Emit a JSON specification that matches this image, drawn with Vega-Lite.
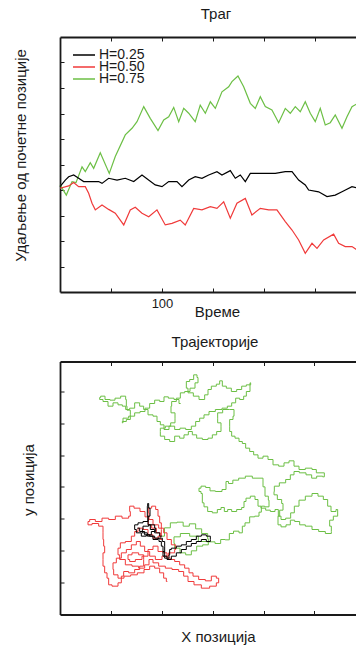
{
"$schema": "https://vega.github.io/schema/vega-lite/v6.json",
"autosize": {"type": "pad"},
"padding": {"left": 12, "top": 6, "right": 0, "bottom": 0},
"bounds": "flush",
"spacing": 69.5,
"config": {
  "font": "Liberation Sans",
  "view": {"stroke": null},
  "axis": {"grid": false, "domainColor": "#1a1a1a", "domainWidth": 1.8, "tickColor": "#1a1a1a", "tickSize": -4, "tickWidth": 1, "labelFontSize": 13, "labelColor": "#1a1a1a", "labelFont": "Liberation Sans", "titleFont": "Liberation Sans", "titleFontSize": 15, "titleFontWeight": "normal", "titleColor": "#1a1a1a"},
  "title": {"font": "Liberation Sans", "fontSize": 15, "fontWeight": "normal", "color": "#1a1a1a", "frame": "group", "anchor": "middle", "baseline": "alphabetic"}
},
"resolve": {"scale": {"color": "independent"}},
"datasets": {
"trace": [
{"H":"H=0.75","t":0,"d":0.2},{"H":"H=0.75","t":6.2,"d":-0.2},{"H":"H=0.75","t":11.8,"d":0.33},{"H":"H=0.75","t":15.7,"d":0.29},{"H":"H=0.75","t":21.6,"d":0.91},{"H":"H=0.75","t":24.8,"d":0.72},{"H":"H=0.75","t":29.7,"d":1.07},{"H":"H=0.75","t":33,"d":0.85},{"H":"H=0.75","t":39.5,"d":1.46},{"H":"H=0.75","t":48.3,"d":0.65},{"H":"H=0.75","t":54.2,"d":1.31},{"H":"H=0.75","t":64,"d":2.16},{"H":"H=0.75","t":70.6,"d":2.42},{"H":"H=0.75","t":75.5,"d":2.68},{"H":"H=0.75","t":82.1,"d":3.27},{"H":"H=0.75","t":88.5,"d":2.81},{"H":"H=0.75","t":96.1,"d":2.33},{"H":"H=0.75","t":101.7,"d":2.75},{"H":"H=0.75","t":106.6,"d":2.87},{"H":"H=0.75","t":111.5,"d":3.24},{"H":"H=0.75","t":116.4,"d":2.68},{"H":"H=0.75","t":121.3,"d":3.2},{"H":"H=0.75","t":126.2,"d":3.01},{"H":"H=0.75","t":132.6,"d":2.68},{"H":"H=0.75","t":137.5,"d":3.33},{"H":"H=0.75","t":142.5,"d":3.01},{"H":"H=0.75","t":147.4,"d":3.46},{"H":"H=0.75","t":152.3,"d":3.2},{"H":"H=0.75","t":158.8,"d":3.85},{"H":"H=0.75","t":165.4,"d":4.05},{"H":"H=0.75","t":168.6,"d":4.25},{"H":"H=0.75","t":174.5,"d":4.47},{"H":"H=0.75","t":180.1,"d":4.05},{"H":"H=0.75","t":186.6,"d":3.4},{"H":"H=0.75","t":191.5,"d":3.2},{"H":"H=0.75","t":196.4,"d":3.66},{"H":"H=0.75","t":201.3,"d":3.27},{"H":"H=0.75","t":207.8,"d":3.14},{"H":"H=0.75","t":214.4,"d":2.64},{"H":"H=0.75","t":220.9,"d":3.2},{"H":"H=0.75","t":225.8,"d":3.01},{"H":"H=0.75","t":230.7,"d":3.27},{"H":"H=0.75","t":235.6,"d":3.07},{"H":"H=0.75","t":240.5,"d":3.46},{"H":"H=0.75","t":245.4,"d":3.01},{"H":"H=0.75","t":250.3,"d":2.68},{"H":"H=0.75","t":255.2,"d":3.2},{"H":"H=0.75","t":260.1,"d":2.55},{"H":"H=0.75","t":265,"d":2.64},{"H":"H=0.75","t":269.9,"d":2.94},{"H":"H=0.75","t":276.5,"d":2.42},{"H":"H=0.75","t":281.4,"d":2.87},{"H":"H=0.75","t":286.3,"d":3.27},{"H":"H=0.75","t":292.2,"d":3.4},
{"H":"H=0.50","t":0,"d":0.07},{"H":"H=0.50","t":8.5,"d":0.16},{"H":"H=0.50","t":13.4,"d":0.29},{"H":"H=0.50","t":18.3,"d":0.13},{"H":"H=0.50","t":24.8,"d":0.13},{"H":"H=0.50","t":28.1,"d":-0.13},{"H":"H=0.50","t":31.4,"d":-0.52},{"H":"H=0.50","t":34.6,"d":-0.78},{"H":"H=0.50","t":41.2,"d":-0.59},{"H":"H=0.50","t":47.7,"d":-0.76},{"H":"H=0.50","t":54.2,"d":-0.91},{"H":"H=0.50","t":62.5,"d":-1.37},{"H":"H=0.50","t":68.9,"d":-0.78},{"H":"H=0.50","t":73.8,"d":-0.68},{"H":"H=0.50","t":80.4,"d":-0.91},{"H":"H=0.50","t":87,"d":-1.05},{"H":"H=0.50","t":95.1,"d":-0.78},{"H":"H=0.50","t":103.2,"d":-1.37},{"H":"H=0.50","t":109.8,"d":-1.31},{"H":"H=0.50","t":117.9,"d":-1.18},{"H":"H=0.50","t":122.8,"d":-1.37},{"H":"H=0.50","t":131.1,"d":-0.72},{"H":"H=0.50","t":139.2,"d":-0.78},{"H":"H=0.50","t":147.4,"d":-0.65},{"H":"H=0.50","t":153.9,"d":-0.72},{"H":"H=0.50","t":160.5,"d":-0.46},{"H":"H=0.50","t":167,"d":-1.11},{"H":"H=0.50","t":173.5,"d":-0.52},{"H":"H=0.50","t":181.7,"d":-0.33},{"H":"H=0.50","t":188.2,"d":-0.98},{"H":"H=0.50","t":196.4,"d":-0.72},{"H":"H=0.50","t":204.6,"d":-0.78},{"H":"H=0.50","t":212.7,"d":-0.78},{"H":"H=0.50","t":220.9,"d":-1.24},{"H":"H=0.50","t":227.5,"d":-1.57},{"H":"H=0.50","t":234,"d":-1.96},{"H":"H=0.50","t":240.5,"d":-2.48},{"H":"H=0.50","t":247.1,"d":-2.09},{"H":"H=0.50","t":252,"d":-2.29},{"H":"H=0.50","t":258.5,"d":-1.96},{"H":"H=0.50","t":268.3,"d":-1.73},{"H":"H=0.50","t":273.2,"d":-2.09},{"H":"H=0.50","t":279.7,"d":-2.22},{"H":"H=0.50","t":286.3,"d":-2.22},{"H":"H=0.50","t":292.2,"d":-2.38},
{"H":"H=0.25","t":0,"d":0.13},{"H":"H=0.25","t":5.2,"d":0.39},{"H":"H=0.25","t":8.5,"d":0.52},{"H":"H=0.25","t":13.4,"d":0.59},{"H":"H=0.25","t":18.3,"d":0.46},{"H":"H=0.25","t":23.2,"d":0.33},{"H":"H=0.25","t":37.9,"d":0.33},{"H":"H=0.25","t":41.2,"d":0.26},{"H":"H=0.25","t":47.7,"d":0.46},{"H":"H=0.25","t":55.9,"d":0.39},{"H":"H=0.25","t":64,"d":0.46},{"H":"H=0.25","t":72.3,"d":0.33},{"H":"H=0.25","t":80.4,"d":0.59},{"H":"H=0.25","t":86.9,"d":0.39},{"H":"H=0.25","t":93.4,"d":0.2},{"H":"H=0.25","t":100,"d":0.13},{"H":"H=0.25","t":106.6,"d":0.33},{"H":"H=0.25","t":114.7,"d":0.33},{"H":"H=0.25","t":119.6,"d":0.13},{"H":"H=0.25","t":126.2,"d":0.39},{"H":"H=0.25","t":132.6,"d":0.52},{"H":"H=0.25","t":139.2,"d":0.46},{"H":"H=0.25","t":145.8,"d":0.59},{"H":"H=0.25","t":153.9,"d":0.72},{"H":"H=0.25","t":158.8,"d":0.59},{"H":"H=0.25","t":167,"d":0.76},{"H":"H=0.25","t":171.9,"d":0.46},{"H":"H=0.25","t":176.8,"d":0.59},{"H":"H=0.25","t":181.7,"d":0.33},{"H":"H=0.25","t":186.6,"d":0.65},{"H":"H=0.25","t":198,"d":0.65},{"H":"H=0.25","t":211.1,"d":0.65},{"H":"H=0.25","t":220.9,"d":0.72},{"H":"H=0.25","t":227.5,"d":0.72},{"H":"H=0.25","t":234,"d":0.39},{"H":"H=0.25","t":240.5,"d":0.2},{"H":"H=0.25","t":243.8,"d":0},{"H":"H=0.25","t":253.6,"d":-0.07},{"H":"H=0.25","t":261.8,"d":-0.26},{"H":"H=0.25","t":269.9,"d":-0.2},{"H":"H=0.25","t":276.5,"d":-0.07},{"H":"H=0.25","t":286.3,"d":0.13},{"H":"H=0.25","t":292.2,"d":0.07}
],
"traj": [
{"H":"H=0.75","i":1,"x":300,"y":235},{"H":"H=0.75","i":2,"x":315,"y":260},{"H":"H=0.75","i":3,"x":335,"y":275},{"H":"H=0.75","i":4,"x":355,"y":277},{"H":"H=0.75","i":5,"x":372,"y":265},{"H":"H=0.75","i":6,"x":392,"y":272},{"H":"H=0.75","i":7,"x":410,"y":257},{"H":"H=0.75","i":8,"x":428,"y":243},{"H":"H=0.75","i":9,"x":446,"y":227},{"H":"H=0.75","i":10,"x":432,"y":209},{"H":"H=0.75","i":11,"x":412,"y":205},{"H":"H=0.75","i":12,"x":396,"y":191},{"H":"H=0.75","i":13,"x":380,"y":179},{"H":"H=0.75","i":14,"x":362,"y":185},{"H":"H=0.75","i":15,"x":346,"y":199},{"H":"H=0.75","i":16,"x":330,"y":213},{"H":"H=0.75","i":17,"x":342,"y":233},{"H":"H=0.75","i":18,"x":368,"y":243},{"H":"H=0.75","i":19,"x":398,"y":235},{"H":"H=0.75","i":20,"x":420,"y":219},{"H":"H=0.75","i":21,"x":448,"y":218},{"H":"H=0.75","i":22,"x":470,"y":213},{"H":"H=0.75","i":23,"x":482,"y":225},{"H":"H=0.75","i":24,"x":497,"y":224},{"H":"H=0.75","i":25,"x":507,"y":243},{"H":"H=0.75","i":26,"x":522,"y":250},{"H":"H=0.75","i":27,"x":540,"y":245},{"H":"H=0.75","i":28,"x":542,"y":265},{"H":"H=0.75","i":29,"x":556,"y":275},{"H":"H=0.75","i":30,"x":570,"y":293},{"H":"H=0.75","i":31,"x":586,"y":295},{"H":"H=0.75","i":32,"x":596,"y":307},{"H":"H=0.75","i":33,"x":600,"y":325},{"H":"H=0.75","i":34,"x":616,"y":323},{"H":"H=0.75","i":35,"x":626,"y":343},{"H":"H=0.75","i":36,"x":612,"y":355},{"H":"H=0.75","i":37,"x":606,"y":383},{"H":"H=0.75","i":38,"x":600,"y":409},{"H":"H=0.75","i":39,"x":582,"y":409},{"H":"H=0.75","i":40,"x":560,"y":415},{"H":"H=0.75","i":41,"x":540,"y":409},{"H":"H=0.75","i":42,"x":520,"y":403},{"H":"H=0.75","i":43,"x":505,"y":393},{"H":"H=0.75","i":44,"x":494,"y":399},{"H":"H=0.75","i":45,"x":490,"y":375},{"H":"H=0.75","i":46,"x":470,"y":369},{"H":"H=0.75","i":47,"x":450,"y":371},{"H":"H=0.75","i":48,"x":438,"y":381},{"H":"H=0.75","i":49,"x":424,"y":385},{"H":"H=0.75","i":50,"x":410,"y":379},{"H":"H=0.75","i":51,"x":412,"y":369},{"H":"H=0.75","i":52,"x":422,"y":363},{"H":"H=0.75","i":53,"x":420,"y":335},{"H":"H=0.75","i":54,"x":432,"y":323},{"H":"H=0.75","i":55,"x":442,"y":309},{"H":"H=0.75","i":56,"x":460,"y":305},{"H":"H=0.75","i":57,"x":472,"y":315},{"H":"H=0.75","i":58,"x":482,"y":321},{"H":"H=0.75","i":59,"x":492,"y":309},{"H":"H=0.75","i":60,"x":502,"y":315},{"H":"H=0.75","i":61,"x":516,"y":309},{"H":"H=0.75","i":62,"x":532,"y":315},{"H":"H=0.75","i":63,"x":546,"y":321},{"H":"H=0.75","i":64,"x":546,"y":339},{"H":"H=0.75","i":65,"x":558,"y":349},{"H":"H=0.75","i":66,"x":572,"y":355},{"H":"H=0.75","i":67,"x":586,"y":345},{"H":"H=0.75","i":68,"x":590,"y":325},{"H":"H=0.75","i":69,"x":604,"y":319},{"H":"H=0.75","i":70,"x":618,"y":313},{"H":"H=0.75","i":71,"x":632,"y":309},{"H":"H=0.75","i":72,"x":646,"y":315},{"H":"H=0.75","i":73,"x":652,"y":295},{"H":"H=0.75","i":74,"x":662,"y":285},{"H":"H=0.75","i":75,"x":680,"y":289},{"H":"H=0.75","i":76,"x":692,"y":305},{"H":"H=0.75","i":77,"x":702,"y":325},{"H":"H=0.75","i":78,"x":720,"y":343},{"H":"H=0.75","i":79,"x":740,"y":355},{"H":"H=0.75","i":80,"x":760,"y":363},{"H":"H=0.75","i":81,"x":776,"y":355},{"H":"H=0.75","i":82,"x":792,"y":345},{"H":"H=0.75","i":83,"x":802,"y":325},{"H":"H=0.75","i":84,"x":812,"y":309},{"H":"H=0.75","i":85,"x":832,"y":315},{"H":"H=0.75","i":86,"x":822,"y":295},{"H":"H=0.75","i":87,"x":806,"y":283},{"H":"H=0.75","i":88,"x":800,"y":265},{"H":"H=0.75","i":89,"x":816,"y":249},{"H":"H=0.75","i":90,"x":800,"y":243},{"H":"H=0.75","i":91,"x":780,"y":249},{"H":"H=0.75","i":92,"x":760,"y":255},{"H":"H=0.75","i":93,"x":740,"y":265},{"H":"H=0.75","i":94,"x":720,"y":269},{"H":"H=0.75","i":95,"x":706,"y":279},{"H":"H=0.75","i":96,"x":690,"y":283},{"H":"H=0.75","i":97,"x":680,"y":269},{"H":"H=0.75","i":98,"x":664,"y":263},{"H":"H=0.75","i":99,"x":650,"y":269},{"H":"H=0.75","i":100,"x":646,"y":295},{"H":"H=0.75","i":101,"x":660,"y":313},{"H":"H=0.75","i":102,"x":666,"y":333},{"H":"H=0.75","i":103,"x":652,"y":345},{"H":"H=0.75","i":104,"x":640,"y":359},{"H":"H=0.75","i":105,"x":632,"y":369},{"H":"H=0.75","i":106,"x":642,"y":385},{"H":"H=0.75","i":107,"x":662,"y":395},{"H":"H=0.75","i":108,"x":680,"y":405},{"H":"H=0.75","i":109,"x":690,"y":419},{"H":"H=0.75","i":110,"x":702,"y":429},{"H":"H=0.75","i":111,"x":722,"y":425},{"H":"H=0.75","i":112,"x":742,"y":419},{"H":"H=0.75","i":113,"x":756,"y":409},{"H":"H=0.75","i":114,"x":772,"y":415},{"H":"H=0.75","i":115,"x":792,"y":413},{"H":"H=0.75","i":116,"x":782,"y":425},{"H":"H=0.75","i":117,"x":766,"y":425},{"H":"H=0.75","i":118,"x":760,"y":435},{"H":"H=0.75","i":119,"x":740,"y":439},{"H":"H=0.75","i":120,"x":720,"y":435},{"H":"H=0.75","i":121,"x":702,"y":445},{"H":"H=0.75","i":122,"x":690,"y":461},{"H":"H=0.75","i":123,"x":672,"y":455},{"H":"H=0.75","i":124,"x":660,"y":445},{"H":"H=0.75","i":125,"x":640,"y":449},{"H":"H=0.75","i":126,"x":626,"y":465},{"H":"H=0.75","i":127,"x":610,"y":475},{"H":"H=0.75","i":128,"x":596,"y":469},{"H":"H=0.75","i":129,"x":580,"y":479},{"H":"H=0.75","i":130,"x":570,"y":489},{"H":"H=0.75","i":131,"x":556,"y":499},{"H":"H=0.75","i":132,"x":546,"y":513},{"H":"H=0.75","i":133,"x":536,"y":519},{"H":"H=0.75","i":134,"x":526,"y":529},{"H":"H=0.75","i":135,"x":512,"y":535},{"H":"H=0.75","i":136,"x":506,"y":549},{"H":"H=0.75","i":137,"x":500,"y":565},{"H":"H=0.75","i":138,"x":506,"y":585},{"H":"H=0.75","i":139,"x":520,"y":595},{"H":"H=0.75","i":140,"x":512,"y":615},{"H":"H=0.75","i":141,"x":492,"y":615},{"H":"H=0.75","i":142,"x":472,"y":605},{"H":"H=0.75","i":143,"x":462,"y":589},{"H":"H=0.75","i":144,"x":472,"y":575},{"H":"H=0.75","i":145,"x":482,"y":565},{"H":"H=0.75","i":146,"x":472,"y":549},{"H":"H=0.75","i":147,"x":456,"y":539},{"H":"H=0.75","i":148,"x":446,"y":529},{"H":"H=0.75","i":149,"x":430,"y":525},{"H":"H=0.75","i":150,"x":412,"y":529},{"H":"H=0.75","i":151,"x":396,"y":539},{"H":"H=0.75","i":152,"x":386,"y":549},{"H":"H=0.75","i":153,"x":372,"y":539},{"H":"H=0.75","i":154,"x":360,"y":529},{"H":"H=0.75","i":155,"x":346,"y":535},{"H":"H=0.75","i":156,"x":330,"y":519},{"H":"H=0.75","i":157,"x":316,"y":525},{"H":"H=0.75","i":158,"x":300,"y":535},{"H":"H=0.75","i":159,"x":290,"y":549},{"H":"H=0.75","i":160,"x":300,"y":559},{"H":"H=0.75","i":161,"x":320,"y":565},{"H":"H=0.75","i":162,"x":332,"y":575},{"H":"H=0.75","i":163,"x":346,"y":589},{"H":"H=0.75","i":164,"x":332,"y":605},{"H":"H=0.75","i":165,"x":322,"y":625},{"H":"H=0.75","i":166,"x":336,"y":639},{"H":"H=0.75","i":167,"x":350,"y":649},{"H":"H=0.75","i":168,"x":360,"y":665},{"H":"H=0.75","i":169,"x":376,"y":669},{"H":"H=0.75","i":170,"x":392,"y":679},{"H":"H=0.75","i":171,"x":406,"y":695},{"H":"H=0.75","i":172,"x":410,"y":711},{"H":"H=0.75","i":173,"x":400,"y":719},{"H":"H=0.75","i":174,"x":390,"y":705},{"H":"H=0.75","i":175,"x":376,"y":699},{"H":"H=0.75","i":176,"x":370,"y":679},{"H":"H=0.75","i":177,"x":386,"y":665},{"H":"H=0.75","i":178,"x":402,"y":655},{"H":"H=0.75","i":179,"x":420,"y":645},{"H":"H=0.75","i":180,"x":436,"y":659},{"H":"H=0.75","i":181,"x":440,"y":675},{"H":"H=0.75","i":182,"x":456,"y":685},{"H":"H=0.75","i":183,"x":470,"y":691},{"H":"H=0.75","i":184,"x":476,"y":701},{"H":"H=0.75","i":185,"x":486,"y":685},{"H":"H=0.75","i":186,"x":500,"y":679},{"H":"H=0.75","i":187,"x":516,"y":669},{"H":"H=0.75","i":188,"x":532,"y":675},{"H":"H=0.75","i":189,"x":546,"y":685},{"H":"H=0.75","i":190,"x":560,"y":689},{"H":"H=0.75","i":191,"x":572,"y":695},{"H":"H=0.75","i":192,"x":556,"y":669},{"H":"H=0.75","i":193,"x":550,"y":655},{"H":"H=0.75","i":194,"x":540,"y":645},{"H":"H=0.75","i":195,"x":526,"y":649},{"H":"H=0.75","i":196,"x":516,"y":635},{"H":"H=0.75","i":197,"x":502,"y":625},{"H":"H=0.75","i":198,"x":490,"y":619},{"H":"H=0.75","i":199,"x":470,"y":615},{"H":"H=0.75","i":200,"x":450,"y":609},{"H":"H=0.75","i":201,"x":432,"y":599},{"H":"H=0.75","i":202,"x":420,"y":589},{"H":"H=0.75","i":203,"x":406,"y":579},{"H":"H=0.75","i":204,"x":396,"y":565},{"H":"H=0.75","i":205,"x":380,"y":555},{"H":"H=0.75","i":206,"x":362,"y":559},{"H":"H=0.75","i":207,"x":346,"y":555},{"H":"H=0.75","i":208,"x":330,"y":565},{"H":"H=0.75","i":209,"x":312,"y":555},{"H":"H=0.75","i":210,"x":300,"y":569},{"H":"H=0.75","i":211,"x":290,"y":579},{"H":"H=0.75","i":212,"x":280,"y":595},{"H":"H=0.75","i":213,"x":266,"y":599},{"H":"H=0.75","i":214,"x":250,"y":615},{"H":"H=0.75","i":215,"x":240,"y":625},{"H":"H=0.75","i":216,"x":226,"y":635},{"H":"H=0.75","i":217,"x":210,"y":619},{"H":"H=0.75","i":218,"x":196,"y":615},{"H":"H=0.75","i":219,"x":186,"y":625},{"H":"H=0.75","i":220,"x":176,"y":629},{"H":"H=0.75","i":221,"x":160,"y":635},{"H":"H=0.75","i":222,"x":146,"y":625},{"H":"H=0.75","i":223,"x":130,"y":639},{"H":"H=0.75","i":224,"x":116,"y":645},{"H":"H=0.75","i":225,"x":110,"y":651},{"H":"H=0.75","i":226,"x":122,"y":655},{"H":"H=0.75","i":227,"x":136,"y":645},{"H":"H=0.75","i":228,"x":152,"y":643},{"H":"H=0.75","i":229,"x":166,"y":649},{"H":"H=0.75","i":230,"x":186,"y":655},{"H":"H=0.75","i":231,"x":196,"y":645},{"H":"H=0.75","i":232,"x":190,"y":625},{"H":"H=0.75","i":233,"x":200,"y":613},{"H":"H=0.75","i":234,"x":210,"y":599},{"H":"H=0.75","i":235,"x":200,"y":585},{"H":"H=0.75","i":236,"x":186,"y":579},{"H":"H=0.75","i":237,"x":176,"y":575},{"H":"H=0.75","i":238,"x":190,"y":589},{"H":"H=0.75","i":239,"x":210,"y":595},{"H":"H=0.75","i":240,"x":226,"y":605},{"H":"H=0.75","i":241,"x":242,"y":609},{"H":"H=0.75","i":242,"x":256,"y":619},{"H":"H=0.75","i":243,"x":270,"y":633},{"H":"H=0.75","i":244,"x":286,"y":643},{"H":"H=0.75","i":245,"x":300,"y":639},{"H":"H=0.75","i":246,"x":312,"y":653},{"H":"H=0.75","i":247,"x":326,"y":649},{"H":"H=0.75","i":248,"x":346,"y":645},{"H":"H=0.75","i":249,"x":356,"y":633},
{"H":"H=0.50","i":1,"x":300,"y":225},{"H":"H=0.50","i":2,"x":290,"y":245},{"H":"H=0.50","i":3,"x":276,"y":259},{"H":"H=0.50","i":4,"x":262,"y":269},{"H":"H=0.50","i":5,"x":256,"y":293},{"H":"H=0.50","i":6,"x":242,"y":309},{"H":"H=0.50","i":7,"x":226,"y":319},{"H":"H=0.50","i":8,"x":206,"y":325},{"H":"H=0.50","i":9,"x":200,"y":309},{"H":"H=0.50","i":10,"x":210,"y":295},{"H":"H=0.50","i":11,"x":190,"y":289},{"H":"H=0.50","i":12,"x":170,"y":295},{"H":"H=0.50","i":13,"x":150,"y":285},{"H":"H=0.50","i":14,"x":130,"y":289},{"H":"H=0.50","i":15,"x":110,"y":279},{"H":"H=0.50","i":16,"x":90,"y":285},{"H":"H=0.50","i":17,"x":76,"y":279},{"H":"H=0.50","i":18,"x":80,"y":269},{"H":"H=0.50","i":19,"x":100,"y":273},{"H":"H=0.50","i":20,"x":120,"y":265},{"H":"H=0.50","i":21,"x":126,"y":245},{"H":"H=0.50","i":22,"x":120,"y":225},{"H":"H=0.50","i":23,"x":130,"y":205},{"H":"H=0.50","i":24,"x":126,"y":185},{"H":"H=0.50","i":25,"x":120,"y":165},{"H":"H=0.50","i":26,"x":126,"y":145},{"H":"H=0.50","i":27,"x":130,"y":125},{"H":"H=0.50","i":28,"x":140,"y":109},{"H":"H=0.50","i":29,"x":140,"y":89},{"H":"H=0.50","i":30,"x":160,"y":85},{"H":"H=0.50","i":31,"x":176,"y":95},{"H":"H=0.50","i":32,"x":180,"y":115},{"H":"H=0.50","i":33,"x":190,"y":129},{"H":"H=0.50","i":34,"x":210,"y":125},{"H":"H=0.50","i":35,"x":226,"y":135},{"H":"H=0.50","i":36,"x":240,"y":145},{"H":"H=0.50","i":37,"x":250,"y":165},{"H":"H=0.50","i":38,"x":240,"y":179},{"H":"H=0.50","i":39,"x":220,"y":185},{"H":"H=0.50","i":40,"x":200,"y":179},{"H":"H=0.50","i":41,"x":196,"y":165},{"H":"H=0.50","i":42,"x":210,"y":159},{"H":"H=0.50","i":43,"x":230,"y":165},{"H":"H=0.50","i":44,"x":250,"y":175},{"H":"H=0.50","i":45,"x":266,"y":195},{"H":"H=0.50","i":46,"x":280,"y":205},{"H":"H=0.50","i":47,"x":296,"y":189},{"H":"H=0.50","i":48,"x":310,"y":185},{"H":"H=0.50","i":49,"x":320,"y":169},{"H":"H=0.50","i":50,"x":330,"y":165},{"H":"H=0.50","i":51,"x":346,"y":159},{"H":"H=0.50","i":52,"x":360,"y":149},{"H":"H=0.50","i":53,"x":376,"y":139},{"H":"H=0.50","i":54,"x":386,"y":125},{"H":"H=0.50","i":55,"x":400,"y":115},{"H":"H=0.50","i":56,"x":420,"y":105},{"H":"H=0.50","i":57,"x":440,"y":101},{"H":"H=0.50","i":58,"x":456,"y":115},{"H":"H=0.50","i":59,"x":470,"y":109},{"H":"H=0.50","i":60,"x":470,"y":95},{"H":"H=0.50","i":61,"x":456,"y":85},{"H":"H=0.50","i":62,"x":430,"y":79},{"H":"H=0.50","i":63,"x":406,"y":89},{"H":"H=0.50","i":64,"x":386,"y":99},{"H":"H=0.50","i":65,"x":370,"y":115},{"H":"H=0.50","i":66,"x":360,"y":129},{"H":"H=0.50","i":67,"x":340,"y":135},{"H":"H=0.50","i":68,"x":320,"y":139},{"H":"H=0.50","i":69,"x":300,"y":145},{"H":"H=0.50","i":70,"x":280,"y":155},{"H":"H=0.50","i":71,"x":266,"y":165},{"H":"H=0.50","i":72,"x":256,"y":149},{"H":"H=0.50","i":73,"x":240,"y":139},{"H":"H=0.50","i":74,"x":220,"y":145},{"H":"H=0.50","i":75,"x":200,"y":149},{"H":"H=0.50","i":76,"x":180,"y":165},{"H":"H=0.50","i":77,"x":166,"y":179},{"H":"H=0.50","i":78,"x":170,"y":199},{"H":"H=0.50","i":79,"x":180,"y":215},{"H":"H=0.50","i":80,"x":200,"y":219},{"H":"H=0.50","i":81,"x":216,"y":235},{"H":"H=0.50","i":82,"x":220,"y":249},{"H":"H=0.50","i":83,"x":236,"y":259},{"H":"H=0.50","i":84,"x":250,"y":255},{"H":"H=0.50","i":85,"x":266,"y":239},{"H":"H=0.50","i":86,"x":280,"y":229},{"H":"H=0.50","i":87,"x":296,"y":235},{"H":"H=0.50","i":88,"x":300,"y":255},{"H":"H=0.50","i":89,"x":296,"y":275},{"H":"H=0.50","i":90,"x":290,"y":295},{"H":"H=0.50","i":91,"x":286,"y":315},{"H":"H=0.50","i":92,"x":276,"y":325},{"H":"H=0.50","i":93,"x":262,"y":319},{"H":"H=0.50","i":94,"x":256,"y":305},{"H":"H=0.50","i":95,"x":266,"y":285},{"H":"H=0.50","i":96,"x":280,"y":269},{"H":"H=0.50","i":97,"x":300,"y":259},{"H":"H=0.50","i":98,"x":310,"y":245},{"H":"H=0.50","i":99,"x":320,"y":225},{"H":"H=0.50","i":100,"x":336,"y":209},{"H":"H=0.50","i":101,"x":346,"y":195},{"H":"H=0.50","i":102,"x":330,"y":185},{"H":"H=0.50","i":103,"x":310,"y":175},{"H":"H=0.50","i":104,"x":290,"y":165},{"H":"H=0.50","i":105,"x":270,"y":175},{"H":"H=0.50","i":106,"x":256,"y":189},{"H":"H=0.50","i":107,"x":240,"y":205},{"H":"H=0.50","i":108,"x":230,"y":219},{"H":"H=0.50","i":109,"x":216,"y":209},{"H":"H=0.50","i":110,"x":200,"y":195},{"H":"H=0.50","i":111,"x":186,"y":185},{"H":"H=0.50","i":112,"x":170,"y":169},{"H":"H=0.50","i":113,"x":156,"y":155},{"H":"H=0.50","i":114,"x":150,"y":135},{"H":"H=0.50","i":115,"x":160,"y":119},{"H":"H=0.50","i":116,"x":176,"y":109},{"H":"H=0.50","i":117,"x":196,"y":115},{"H":"H=0.50","i":118,"x":216,"y":119},{"H":"H=0.50","i":119,"x":236,"y":125},{"H":"H=0.50","i":120,"x":256,"y":135},{"H":"H=0.50","i":121,"x":270,"y":145},{"H":"H=0.50","i":122,"x":286,"y":139},{"H":"H=0.50","i":123,"x":300,"y":125},{"H":"H=0.50","i":124,"x":310,"y":109},{"H":"H=0.50","i":125,"x":316,"y":99},
{"H":"H=0.25","i":1,"x":300,"y":235},{"H":"H=0.25","i":2,"x":286,"y":245},{"H":"H=0.25","i":3,"x":270,"y":255},{"H":"H=0.25","i":4,"x":260,"y":269},{"H":"H=0.25","i":5,"x":256,"y":295},{"H":"H=0.25","i":6,"x":256,"y":325},{"H":"H=0.25","i":7,"x":258,"y":333},{"H":"H=0.25","i":8,"x":262,"y":319},{"H":"H=0.25","i":9,"x":266,"y":295},{"H":"H=0.25","i":10,"x":250,"y":279},{"H":"H=0.25","i":11,"x":236,"y":275},{"H":"H=0.25","i":12,"x":220,"y":269},{"H":"H=0.25","i":13,"x":216,"y":255},{"H":"H=0.25","i":14,"x":230,"y":245},{"H":"H=0.25","i":15,"x":246,"y":235},{"H":"H=0.25","i":16,"x":260,"y":239},{"H":"H=0.25","i":17,"x":276,"y":249},{"H":"H=0.25","i":18,"x":286,"y":259},{"H":"H=0.25","i":19,"x":270,"y":269},{"H":"H=0.25","i":20,"x":250,"y":265},{"H":"H=0.25","i":21,"x":236,"y":255},{"H":"H=0.25","i":22,"x":246,"y":245},{"H":"H=0.25","i":23,"x":266,"y":235},{"H":"H=0.25","i":24,"x":280,"y":225},{"H":"H=0.25","i":25,"x":296,"y":229},{"H":"H=0.25","i":26,"x":306,"y":219},{"H":"H=0.25","i":27,"x":310,"y":205},{"H":"H=0.25","i":28,"x":306,"y":189},{"H":"H=0.25","i":29,"x":300,"y":175},{"H":"H=0.25","i":30,"x":316,"y":169},{"H":"H=0.25","i":31,"x":326,"y":179},{"H":"H=0.25","i":32,"x":320,"y":195},{"H":"H=0.25","i":33,"x":336,"y":199},{"H":"H=0.25","i":34,"x":350,"y":205},{"H":"H=0.25","i":35,"x":366,"y":209},{"H":"H=0.25","i":36,"x":380,"y":219},{"H":"H=0.25","i":37,"x":396,"y":225},{"H":"H=0.25","i":38,"x":410,"y":235},{"H":"H=0.25","i":39,"x":426,"y":239},{"H":"H=0.25","i":40,"x":440,"y":235},{"H":"H=0.25","i":41,"x":450,"y":225},{"H":"H=0.25","i":42,"x":440,"y":219},{"H":"H=0.25","i":43,"x":426,"y":225},{"H":"H=0.25","i":44,"x":410,"y":219},{"H":"H=0.25","i":45,"x":396,"y":213},{"H":"H=0.25","i":46,"x":380,"y":205},{"H":"H=0.25","i":47,"x":366,"y":195},{"H":"H=0.25","i":48,"x":350,"y":185},{"H":"H=0.25","i":49,"x":336,"y":175},{"H":"H=0.25","i":50,"x":320,"y":165},{"H":"H=0.25","i":51,"x":310,"y":175},{"H":"H=0.25","i":52,"x":306,"y":189},{"H":"H=0.25","i":53,"x":300,"y":205},{"H":"H=0.25","i":54,"x":296,"y":219},{"H":"H=0.25","i":55,"x":286,"y":229},{"H":"H=0.25","i":56,"x":270,"y":235},{"H":"H=0.25","i":57,"x":256,"y":239},{"H":"H=0.25","i":58,"x":240,"y":249},{"H":"H=0.25","i":59,"x":226,"y":259}
]
},
"vconcat": [
{
  "width": 298, "height": 255,
  "title": {"text": "Траг", "offset": 15, "dx": 7},
  "data": {"name": "trace"},
  "layer": [
    {
      "mark": {"type": "line", "strokeWidth": 1.2},
      "encoding": {
        "x": {"field": "t", "type": "quantitative", "scale": {"domain": [0, 292.2], "nice": false, "zero": false},
              "axis": {"orient": "bottom", "values": [50, 100, 150, 200, 250], "labelExpr": "datum.value == 100 ? '100' : ''", "labelPadding": 9, "title": "Време", "titleX": 157, "titleY": 24, "titleBaseline": "alphabetic", "titleAlign": "center"}},
        "y": {"field": "d", "type": "quantitative", "scale": {"domain": [-4, 6], "nice": false, "zero": false},
              "axis": {"values": [-3, -2, -1, 0, 1, 2, 3, 4, 5], "labels": false, "title": "Удаљење од почетне позиције", "titleX": -35, "titleY": 118, "titleAngle": -90, "titleBaseline": "alphabetic", "titleAlign": "center"}},
        "color": {"field": "H", "type": "nominal", "scale": {"domain": ["H=0.25", "H=0.50", "H=0.75"], "range": ["#000000", "#f03a3a", "#6cbf45"]},
                  "legend": {"title": null, "orient": "none", "legendX": 12, "legendY": 13, "symbolType": "stroke", "symbolSize": 484, "symbolStrokeWidth": 1.5, "labelFontSize": 14, "labelOffset": 3, "labelColor": "#1a1a1a", "rowPadding": -10, "clipHeight": 10, "padding": 0}}
      }
    },
    {
      "mark": {"type": "line", "opacity": 0},
      "encoding": {
        "x": {"field": "t", "type": "quantitative", "axis": {"orient": "top", "values": [50, 100, 150, 200, 250], "labels": false, "title": null}},
        "detail": {"field": "H"}
      }
    }
  ],
  "resolve": {"axis": {"x": "independent"}}
},
{
  "width": 298, "height": 253,
  "title": {"text": "Трајекторије", "offset": 11, "dx": 6},
  "data": {"name": "traj"},
  "layer": [
    {
      "mark": {"type": "line", "strokeWidth": 1, "interpolate": "step"},
      "encoding": {
        "x": {"field": "x", "type": "quantitative", "scale": {"domain": [-6, 888], "nice": false, "zero": false},
              "axis": {"orient": "bottom", "values": [148, 300, 452, 605, 757], "labels": false, "title": "X позиција", "titleX": 158, "titleY": 27, "titleBaseline": "alphabetic", "titleAlign": "center"}},
        "y": {"field": "y", "type": "quantitative", "scale": {"domain": [0, 759], "nice": false, "zero": false},
              "axis": {"values": [97, 193, 288, 383, 478, 573, 668], "labels": false, "title": "у позиција", "titleX": -27, "titleY": 118, "titleAngle": -90, "titleBaseline": "alphabetic", "titleAlign": "center"}},
        "color": {"field": "H", "type": "nominal", "scale": {"domain": ["H=0.25", "H=0.50", "H=0.75"], "range": ["#000000", "#f03a3a", "#6cbf45"]}, "legend": null},
        "order": {"field": "i", "type": "quantitative"}
      }
    },
    {
      "mark": {"type": "line", "opacity": 0},
      "encoding": {
        "x": {"field": "x", "type": "quantitative", "axis": {"orient": "top", "values": [148, 300, 452, 605, 757], "labels": false, "title": null}},
        "detail": {"field": "H"}
      }
    }
  ],
  "resolve": {"axis": {"x": "independent"}}
}
]
}
